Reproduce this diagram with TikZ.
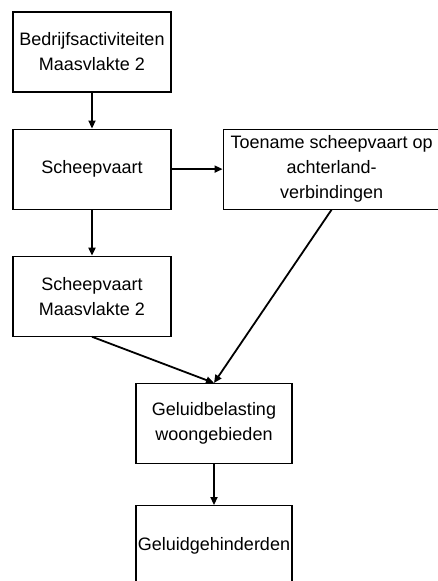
\documentclass[tikz,border=0pt]{standalone}
\usepackage{fontspec}
\setmainfont{Liberation Sans}
\usetikzlibrary{arrows.meta, positioning}

\begin{document}
\begin{tikzpicture}[
            x=1pt, y=1pt,
            node distance=36pt,
            effectbox/.style={
                draw=black,
                line width=1.1pt,
                align=center,
                inner sep=0pt,
                minimum width=158pt,
                minimum height=80pt,
                font=\fontsize{18}{25}\selectfont
            },
            arrow/.style={-{Triangle[length=8pt,width=7pt]}, line width=1.8pt}
        ]
            \useasboundingbox (0,0) rectangle (437,-581);
            \node[effectbox] (bedrijf) at (92,-52) {Bedrijfsactiviteiten\\Maasvlakte 2};
            \node[effectbox, below=of bedrijf] (scheep) {Scheepvaart};
            \node[effectbox, below=46pt of scheep] (scheepmv) {Scheepvaart\\Maasvlakte 2};
            \node[effectbox, right=51pt of scheep, minimum width=217pt] (toename) {Toename scheepvaart op\\achterland-\\verbindingen};
            \node[effectbox, minimum width=156pt] (belasting) at (214,-423.5) {Geluidbelasting\\woongebieden};
            \node[effectbox, below=41pt of belasting, minimum width=156pt] (gehinderd) {Geluidgehinderden};

            \draw[arrow] (bedrijf) -- (scheep);
            \draw[arrow] (scheep) -- (toename);
            \draw[arrow] (scheep) -- (scheepmv);
            \draw[arrow] (scheepmv.south) -- (belasting.north);
            \draw[arrow] (toename.south) -- (belasting.north);
            \draw[arrow] (belasting) -- (gehinderd);
        \end{tikzpicture}
\end{document}
